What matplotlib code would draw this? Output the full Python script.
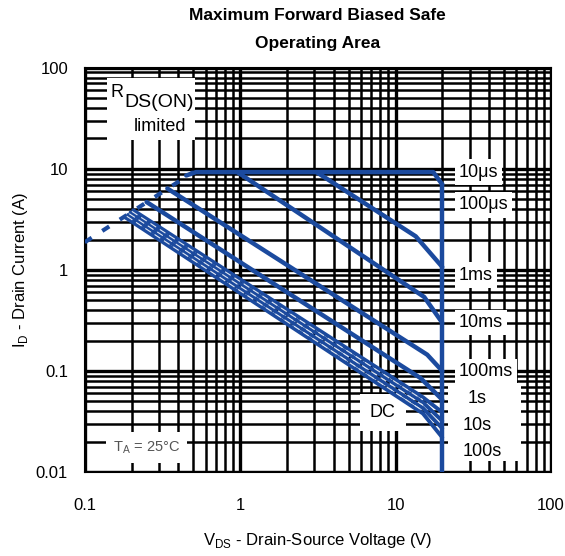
import matplotlib
matplotlib.use("Agg")
import matplotlib.pyplot as plt
from matplotlib.patches import Rectangle

plt.rcParams['font.family'] = ['Liberation Sans', 'DejaVu Sans']

# RDS(on) limit line (dashed)
rds_v = [0.1, 0.5]
rds_i = [1.88, 9.3]

# pulse curves: voltage / current corner points
curve_names = ['10μs', '100μs', '1ms', '10ms', '100ms', '1s', '10s', '100s', 'DC']
curve_v = [
    [0.45, 0.52, 17.5, 20],
    [3.1, 13.5, 20],
    [0.96, 15.3, 20],
    [0.34, 16.0, 20],
    [0.25, 14.5, 20],
    [0.205, 15.0, 20],
    [0.197, 15.0, 20],
    [0.19, 15.0, 20],
    [0.183, 15.0, 20],
]
curve_i = [
    [8.6, 9.3, 9.3, 7.0],
    [9.3, 2.15, 1.07],
    [9.3, 0.54, 0.30],
    [6.4, 0.145, 0.10],
    [4.7, 0.085, 0.052],
    [3.9, 0.055, 0.039],
    [3.7, 0.049, 0.032],
    [3.5, 0.043, 0.027],
    [3.3, 0.038, 0.022],
]

# breakdown voltage limit
bv_v = [20, 20]
bv_i = [7.0, 0.01]

# label positions (current) to the right of 20 V
label_i = [9.3, 4.4, 0.89, 0.30, 0.098, 0.054, 0.029, 0.016]

blue = '#1b4a9e'

fig = plt.figure(figsize=(5.65, 5.56), dpi=100)
ax = fig.add_axes([0.150, 0.151, 0.825, 0.727])
ax.set_xscale('log')
ax.set_yscale('log')
ax.set_xlim(0.1, 100)
ax.set_ylim(0.01, 100)
ax.set_axisbelow(True)

ax.grid(True, which='major', color='black', linewidth=2.4)
ax.grid(True, which='minor', color='black', linewidth=1.8)
for s in ax.spines.values():
    s.set_linewidth(1.5)
ax.tick_params(which='both', length=0, labelsize=12)
ax.tick_params(axis='x', pad=19)
ax.tick_params(axis='y', pad=12)
ax.set_xticks([0.1, 1, 10, 100])
ax.set_xticklabels(['0.1', '1', '10', '100'])
ax.set_yticks([0.01, 0.1, 1, 10, 100])
ax.set_yticklabels(['0.01', '0.1', '1', '10', '100'])

# white label boxes
box = dict(facecolor='white', edgecolor='none', pad=3)
ax.add_patch(Rectangle((21.8, 0.0129), 64 - 21.8, 0.0756 - 0.0129,
                       facecolor='white', edgecolor='none', zorder=1))
for name, yi in zip(curve_names[:5], label_i[:5]):
    ax.text(25.5, yi, name, fontsize=13, va='center', ha='left',
            bbox=box, zorder=1.5)
for name, yi in zip(curve_names[5:8], label_i[5:]):
    ax.text(29 if name == '1s' else 27, yi, name, fontsize=13,
            va='center', ha='left', zorder=1.5)
ax.text(8.3, 0.039, 'DC', fontsize=13, va='center', ha='center',
        bbox=dict(facecolor='white', edgecolor='none', pad=7), zorder=1.5)

# curves
ax.plot(rds_v, rds_i, color=blue, linewidth=3, linestyle=(0, (2, 3)),
        zorder=3)
for k, (v, i) in enumerate(zip(curve_v, curve_i)):
    ax.plot(v, i, color=blue, linewidth=3.2 if k < 5 else 2.8,
            solid_joinstyle='round', solid_capstyle='round', zorder=3)
# light gaps inside the bundle of long-pulse curves
for k in range(5, 8):
    mid_v = [(a * b) ** 0.5 for a, b in zip(curve_v[k], curve_v[k + 1])]
    mid_i = [(a * b) ** 0.5 for a, b in zip(curve_i[k], curve_i[k + 1])]
    ax.plot(mid_v[:2], mid_i[:2], color='#dfe6f2', linewidth=0.8,
            linestyle=(0, (6, 4)), zorder=4)
ax.plot(bv_v, bv_i, color=blue, linewidth=3.2, zorder=3)

# annotations
ax.add_patch(Rectangle((0.139, 19.4), 0.513 - 0.139, 79.6 - 19.4,
                       facecolor='white', edgecolor='none', zorder=1))
ax.text(0.147, 57, 'R', fontsize=13, ha='left', va='center', zorder=2)
ax.text(0.181, 45, 'DS(ON)', fontsize=14, ha='left', va='center', zorder=2)
ax.text(0.207, 26, 'limited', fontsize=13, ha='left', va='center', zorder=2)

ax.text(0.25, 0.0175, r'T$_\mathregular{A}$ = 25°C', fontsize=10.5,
        color='#555555', ha='center', va='center', zorder=2,
        bbox=dict(facecolor='white', edgecolor='none', pad=5))

ax.set_title('Maximum Forward Biased Safe\nOperating Area', fontsize=12.5,
             fontweight='bold', pad=14, linespacing=2.1)
ax.set_xlabel(r'V$_\mathregular{DS}$ - Drain-Source Voltage (V)',
              fontsize=12, labelpad=13)
ax.set_ylabel(r'I$_\mathregular{D}$ - Drain Current (A)', fontsize=12,
              labelpad=4)

fig.savefig('out.png', dpi=100)
